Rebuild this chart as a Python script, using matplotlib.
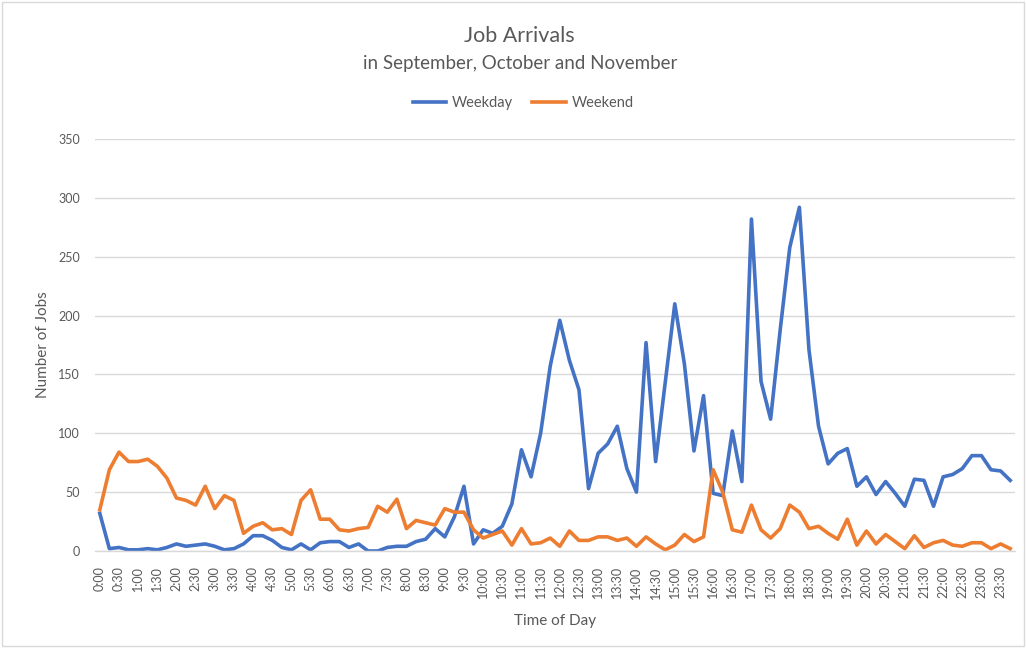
import matplotlib
matplotlib.use("Agg")
import matplotlib.pyplot as plt
from matplotlib.patches import Rectangle

plt.rcParams['font.family'] = ['Lato', 'DejaVu Sans']

# 15-minute slots across the day
times = [f"{h}:{m:02d}" for h in range(24) for m in (0, 15, 30, 45)]

weekday = [32, 2, 3, 1, 1, 2, 1, 3, 6, 4, 5, 6, 4, 1, 2, 6,
           13, 13, 9, 3, 1, 6, 1, 7, 8, 8, 3, 6, 0, 0, 3, 4,
           4, 8, 10, 19, 12, 29, 55, 6, 18, 15, 21, 40, 86, 63, 100, 157,
           196, 162, 137, 53, 83, 91, 106, 70, 50, 177, 76, 143, 210, 159, 85, 132,
           49, 47, 102, 59, 282, 144, 112, 188, 258, 292, 171, 106, 74, 83, 87, 55,
           63, 48, 59, 49, 38, 61, 60, 38, 63, 65, 70, 81, 81, 69, 68, 60]

weekend = [35, 69, 84, 76, 76, 78, 72, 62, 45, 43, 39, 55, 36, 47, 43, 15,
           21, 24, 18, 19, 14, 43, 52, 27, 27, 18, 17, 19, 20, 38, 33, 44,
           19, 26, 24, 22, 36, 33, 33, 18, 11, 14, 17, 5, 19, 6, 7, 11,
           4, 17, 9, 9, 12, 12, 9, 11, 4, 12, 6, 1, 5, 14, 8, 12,
           69, 50, 18, 16, 39, 18, 11, 19, 39, 33, 19, 21, 15, 10, 27, 5,
           17, 6, 14, 8, 2, 13, 3, 7, 9, 5, 4, 7, 7, 2, 6, 2]

y_ticks = [0, 50, 100, 150, 200, 250, 300, 350]

W, H = 1026, 648
fig = plt.figure(figsize=(W / 100, H / 100), dpi=100)
fig.patch.set_facecolor("white")
fig.add_artist(Rectangle((2 / W, 2 / H), 1 - 4 / W, 1 - 4 / H, transform=fig.transFigure,
                         fill=False, edgecolor="#D9D9D9", linewidth=1))

ax = fig.add_axes([95 / W, (H - 551) / H, 920 / W, 412 / H])
x = list(range(len(times)))
ax.plot(x, weekday, color="#4472C4", linewidth=2.6, label="Weekday", solid_joinstyle="round")
ax.plot(x, weekend, color="#ED7D31", linewidth=2.6, label="Weekend", solid_joinstyle="round")

ax.set_xlim(-0.5, len(times) - 0.5)
ax.set_ylim(0, 350)
ax.set_yticks(y_ticks)
ax.set_xticks(x[::2])
ax.set_xticklabels(times[::2], rotation=90)
ax.tick_params(axis="both", length=0, labelsize=9, colors="#595959")
ax.tick_params(axis="x", pad=11)
ax.tick_params(axis="y", pad=11)
ax.grid(axis="y", color="#D9D9D9", linewidth=1)
ax.set_axisbelow(True)
for side in ("left", "right", "top"):
    ax.spines[side].set_visible(False)
ax.spines["bottom"].set_color("#D9D9D9")
ax.spines["bottom"].set_linewidth(1)

ax.set_xlabel("Time of Day", fontsize=11, color="#595959", labelpad=11)
ax.set_ylabel("Number of Jobs", fontsize=11, color="#595959", labelpad=6)

fig.text(0.506, 1 - 36 / H, "Job Arrivals", ha="center", va="center", fontsize=15.5, color="#595959")
fig.text(0.507, 1 - 64 / H, "in September, October and November", ha="center", va="center",
         fontsize=13.5, color="#595959")

leg = fig.legend(loc="center", bbox_to_anchor=(0.510, 1 - 103 / H), ncol=2, frameon=False,
                 fontsize=10.5, handlelength=2.3, columnspacing=1.3, handletextpad=0.4)
for t in leg.get_texts():
    t.set_color("#595959")

fig.savefig("out.png", dpi=100)
